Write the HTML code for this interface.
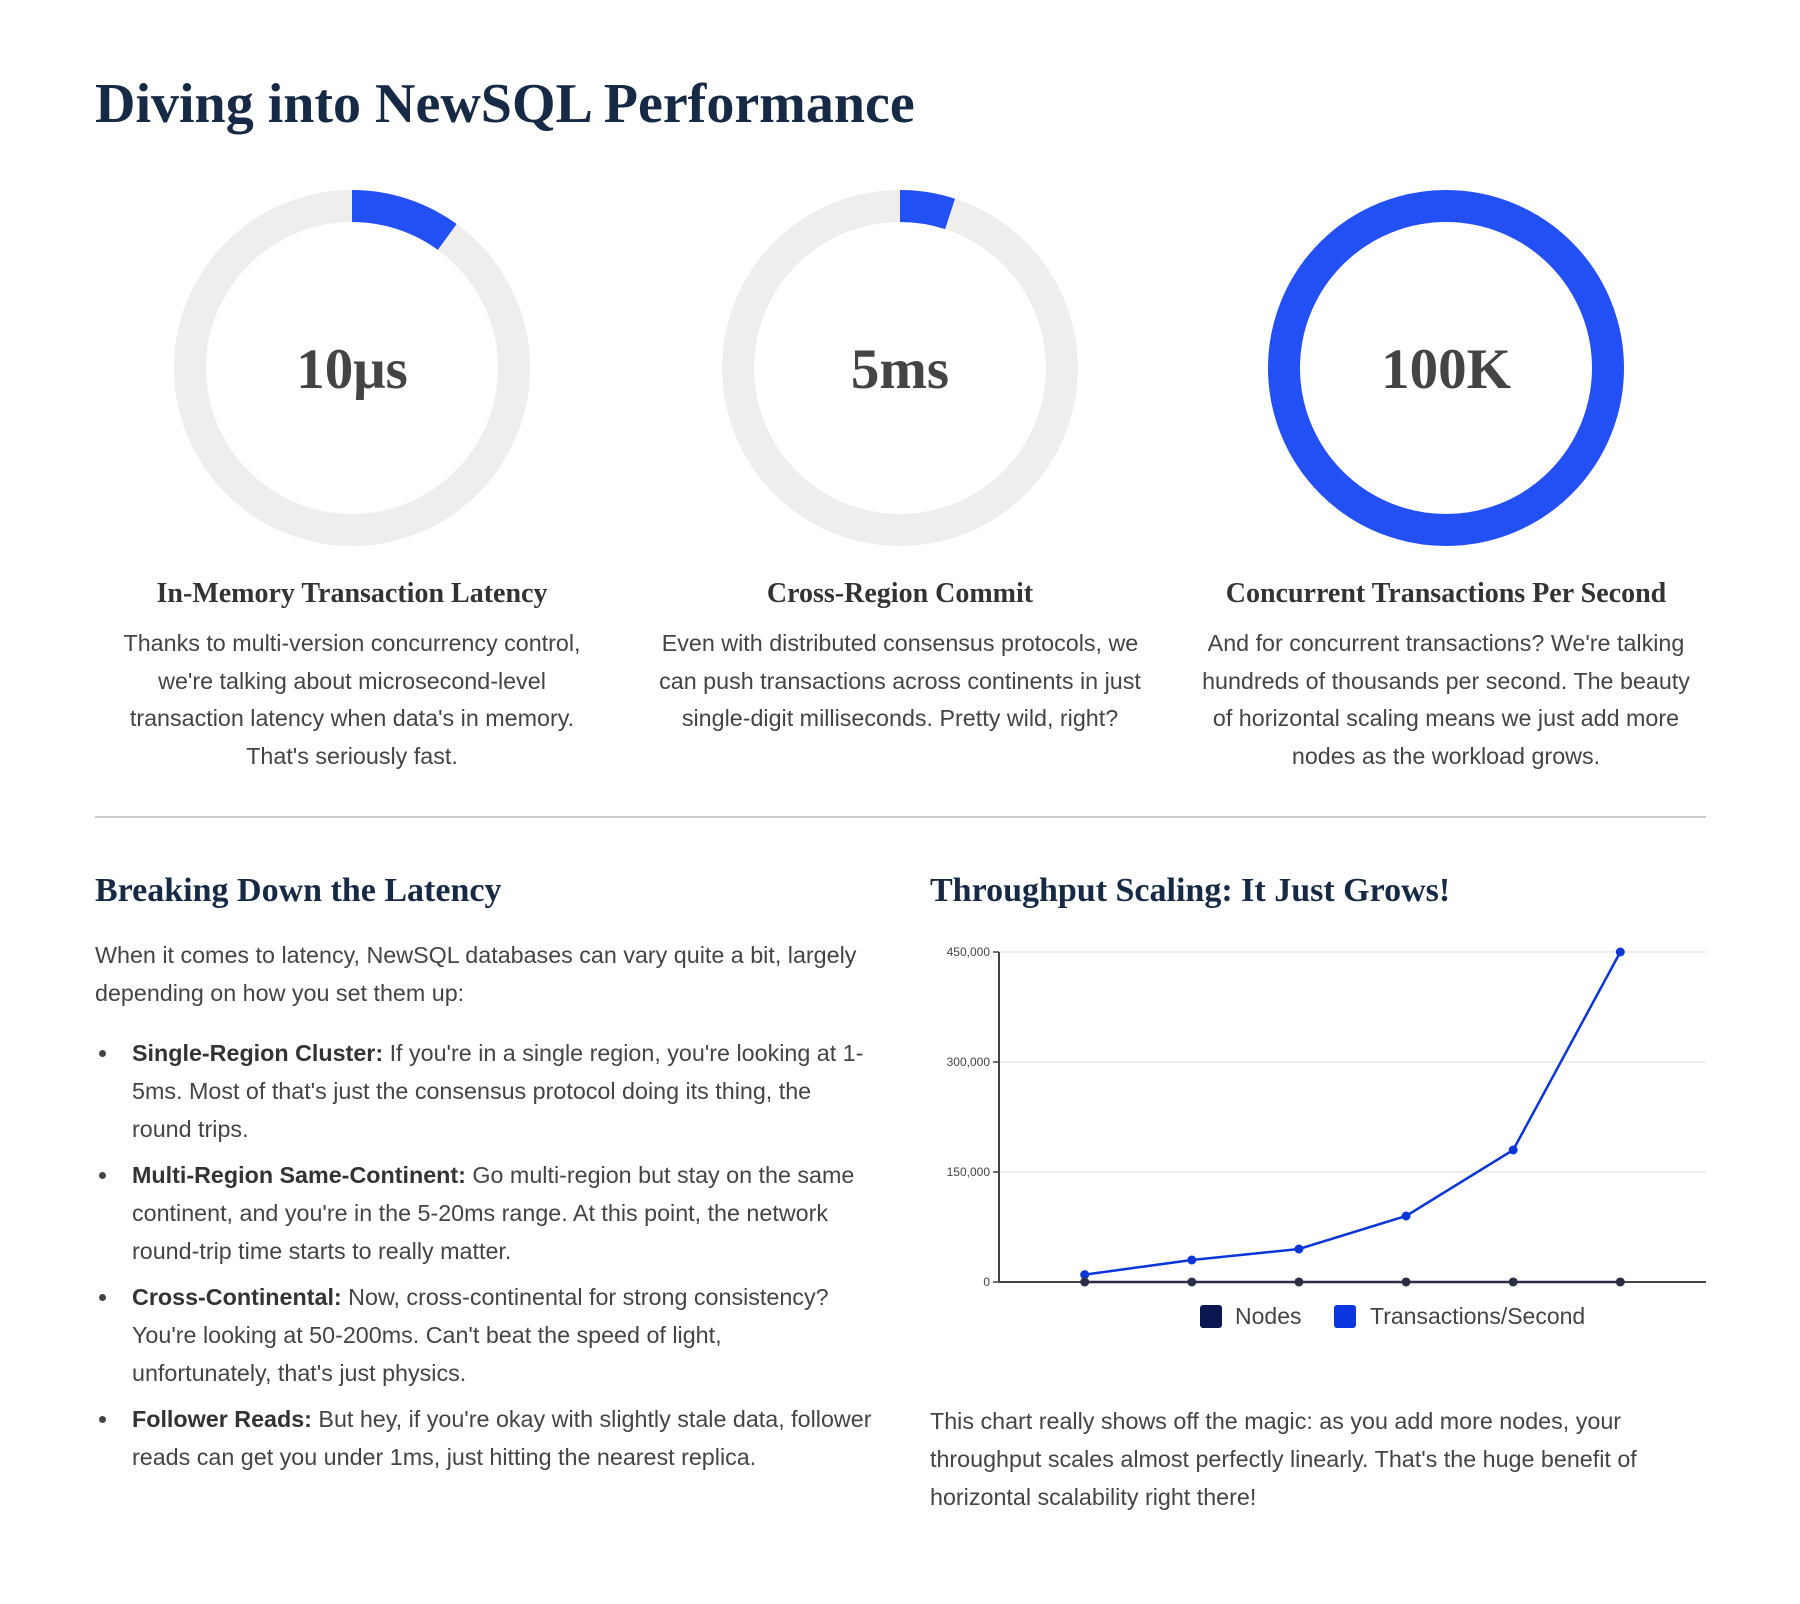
<!DOCTYPE html>
<html><head><meta charset="utf-8">
<style>
body{margin:0;width:1800px;height:1604px;background:#fff;position:relative;overflow:hidden;font-family:"Liberation Sans",sans-serif;}
.abs{position:absolute;}
.serif{font-family:"Liberation Serif",serif;font-weight:bold;}
h1{margin:0;}
.card-h{position:absolute;width:540px;text-align:center;font-size:28px;color:#333;top:578px;}
.card-p{position:absolute;width:490px;text-align:center;font-size:23.3px;line-height:37.5px;color:#444;top:625px;}
.txt{font-size:23.3px;line-height:38px;color:#444;}
ul{margin:0;padding:0;list-style:none;}
li{position:relative;padding-left:37px;margin-bottom:8px;}
li:before{content:"";position:absolute;left:4px;top:16px;width:7px;height:7px;border-radius:50%;background:#444;}
li b{color:#333;}
</style></head><body>
<h1 class="abs serif" style="left:95px;top:72px;font-size:56px;color:#172a45;">Diving into NewSQL Performance</h1>

<svg class="abs" style="left:0;top:0" width="1800" height="560">
  <g>
    <circle cx="352" cy="368" r="162" fill="none" stroke="#f0eeed" stroke-width="32"/>
    <circle cx="352" cy="368" r="162" fill="none" stroke="#2350f5" stroke-width="32" stroke-dasharray="101.8 2000" transform="rotate(-90 352 368)"/>
    <text x="352" y="388" text-anchor="middle" font-family="Liberation Serif" font-weight="bold" font-size="57" fill="#444">10μs</text>
  </g>
  <g>
    <circle cx="900" cy="368" r="162" fill="none" stroke="#f0eeed" stroke-width="32"/>
    <circle cx="900" cy="368" r="162" fill="none" stroke="#2350f5" stroke-width="32" stroke-dasharray="50.9 2000" transform="rotate(-90 900 368)"/>
    <text x="900" y="388" text-anchor="middle" font-family="Liberation Serif" font-weight="bold" font-size="57" fill="#444">5ms</text>
  </g>
  <g>
    <circle cx="1446" cy="368" r="162" fill="none" stroke="#2350f5" stroke-width="32"/>
    <text x="1446" y="388" text-anchor="middle" font-family="Liberation Serif" font-weight="bold" font-size="57" fill="#444">100K</text>
  </g>
</svg>

<div class="card-h serif" style="left:82px">In-Memory Transaction Latency</div>
<div class="card-p" style="left:107px">Thanks to multi-version concurrency control, we're talking about microsecond-level transaction latency when data's in memory. That's seriously fast.</div>
<div class="card-h serif" style="left:630px">Cross-Region Commit</div>
<div class="card-p" style="left:655px;width:510px;margin-left:-10px">Even with distributed consensus protocols, we can push transactions across continents in just single-digit milliseconds. Pretty wild, right?</div>
<div class="card-h serif" style="left:1176px">Concurrent Transactions Per Second</div>
<div class="card-p" style="left:1201px">And for concurrent transactions? We're talking hundreds of thousands per second. The beauty of horizontal scaling means we just add more nodes as the workload grows.</div>

<div class="abs" style="left:95px;top:816px;width:1611px;height:2px;background:#ccc"></div>

<div class="abs serif" style="left:95px;top:872px;font-size:34px;color:#172a45">Breaking Down the Latency</div>
<div class="abs txt" style="left:95px;top:936px;width:780px">When it comes to latency, NewSQL databases can vary quite a bit, largely depending on how you set them up:</div>
<ul class="abs txt" style="left:95px;top:1034px;width:785px">
<li><b>Single-Region Cluster:</b> If you're in a single region, you're looking at 1-5ms. Most of that's just the consensus protocol doing its thing, the<br>round trips.</li>
<li><b>Multi-Region Same-Continent:</b> Go multi-region but stay on the same continent, and you're in the 5-20ms range. At this point, the network round-trip time starts to really matter.</li>
<li><b>Cross-Continental:</b> Now, cross-continental for strong consistency? You're looking at 50-200ms. Can't beat the speed of light,<br>unfortunately, that's just physics.</li>
<li><b>Follower Reads:</b> But hey, if you're okay with slightly stale data, follower reads can get you under 1ms, just hitting the nearest replica.</li>
</ul>

<div class="abs serif" style="left:930px;top:872px;font-size:34px;color:#172a45">Throughput Scaling: It Just Grows!</div>
<svg id="chart" class="abs" style="left:0;top:0" width="1800" height="1400"></svg>
<div class="abs txt" style="left:930px;top:1402px;width:780px">This chart really shows off the magic: as you add more nodes, your throughput scales almost perfectly linearly. That's the huge benefit of horizontal scalability right there!</div>

<script>
const categories = ["1","2","3","4","5","6"];
const nodes = [3, 6, 9, 12, 15, 18];
const tps = [10000, 30000, 45000, 90000, 180000, 450000];
const yTicks = [0, 150000, 300000, 450000];
const yTickLabels = ["0","150,000","300,000","450,000"];

const svg = document.getElementById('chart');
const NS = 'http://www.w3.org/2000/svg';
const X0 = 999, X1 = 1706, Y0 = 1282, Y1 = 952, YMAX = 450000;
const step = (X1 - X0) / (categories.length + 0.6);
function xs(i){ return X0 + step * (i + 0.8); }
function ys(v){ return Y0 - (v / YMAX) * (Y0 - Y1); }
function mk(t, a){ const e = document.createElementNS(NS, t); for (const k in a) e.setAttribute(k, a[k]); svg.appendChild(e); return e; }

yTicks.forEach((v, i) => {
  const g = mk('line', {x1: X0, x2: X1, y1: ys(v), y2: ys(v), stroke: i ? '#ddd' : '#444', 'stroke-width': i ? 1 : 2});
  
  
  mk('line', {x1: X0 - 6, x2: X0, y1: ys(v), y2: ys(v), stroke: '#444', 'stroke-width': 1.5});
  const t = mk('text', {x: X0 - 9, y: ys(v) + 4, 'text-anchor': 'end', 'font-size': 12, fill: '#444', 'font-family': 'Liberation Sans'});
  t.textContent = yTickLabels[i];
  
  
});
const ax = mk('line', {x1: X0, x2: X0, y1: Y1, y2: Y0, stroke: '#444', 'stroke-width': 2});



function series(vals, color, name){
  const pl = mk('polyline', {points: vals.map((v, i) => xs(i) + ',' + ys(v)).join(' '), fill: 'none', stroke: color, 'stroke-width': 2.5});
  
  
  vals.forEach((v, i) => {
    const c = mk('circle', {cx: xs(i), cy: ys(v), r: 4.5, fill: color});
    
    
  });
}
series(tps, '#0a36d8', 'tps');
series(nodes, '#2a2f45', 'nodes');

const legend = [["Nodes", "#0a1650", 1200, 1235], ["Transactions/Second", "#0a36e0", 1334, 1370]];
legend.forEach(l => {
  const r = mk('rect', {x: l[2], y: 1305, width: 22, height: 23, rx: 3, fill: l[1]});
  
  
  const t = mk('text', {x: l[3], y: 1324, 'font-size': 23, fill: '#444', 'font-family': 'Liberation Sans'});
  t.textContent = l[0];
  
  
});
</script>
</body></html>
